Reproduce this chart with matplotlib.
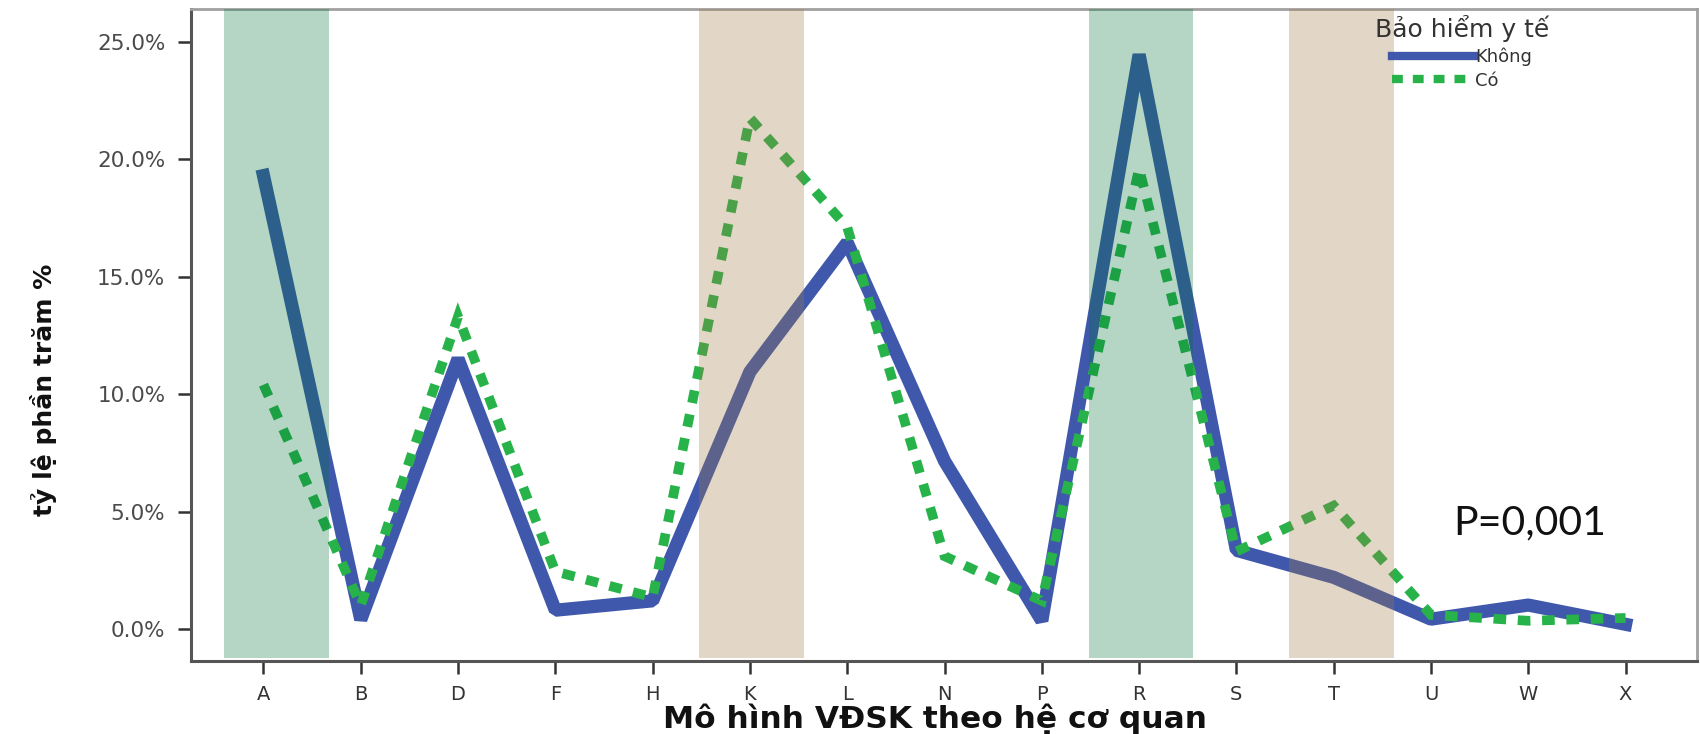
import matplotlib
matplotlib.use("Agg")
import matplotlib.pyplot as plt
from matplotlib.ticker import FuncFormatter

categories = ["A", "B", "D", "F", "H", "K", "L", "N", "P", "R", "S", "T", "U", "W", "X"]
khong = [19.3, 0.4, 11.5, 0.8, 1.2, 10.95, 16.45, 7.15, 0.35, 24.45, 3.35, 2.2, 0.42, 1.02, 0.2]
co = [10.4, 1.0, 13.3, 2.45, 1.35, 21.75, 17.1, 3.1, 1.2, 19.6, 3.3, 5.25, 0.6, 0.35, 0.47]
yticks = [0, 5, 10, 15, 20, 25]
green_bands = ["A", "R"]
tan_bands = ["K", "T"]

sans = "DejaVu Sans"

fig = plt.figure(figsize=(17, 7.34), dpi=100)
ax = fig.add_axes([0.1124, 0.0995, 0.8856, 0.8885])

x = list(range(len(categories)))
ax.plot(x, khong, color="#3f58ac", lw=9.5, solid_joinstyle="bevel", zorder=3, label="Không")
ax.plot(x, co, color="#27b34a", lw=7, dashes=(1.3, 1.2), dash_joinstyle="miter",
        dash_capstyle="butt", zorder=4, label="Có")

band_off = {"A": (-0.405, 0.67), "K": (-0.52, 0.555), "R": (-0.52, 0.555), "T": (-0.46, 0.62)}
for c in green_bands:
    i = categories.index(c)
    lo, hi = band_off[c]
    ax.axvspan(i + lo, i + hi, ymin=0.005, ymax=1, color="#007238", alpha=0.29, lw=0, zorder=5)
for c in tan_bands:
    i = categories.index(c)
    lo, hi = band_off[c]
    ax.axvspan(i + lo, i + hi, ymin=0.005, ymax=1, color="#a27a44", alpha=0.3, lw=0, zorder=5)

ax.set_xlim(-0.744, 14.73)
ax.set_ylim(-1.36, 26.4)
ax.set_xticks(x)
ax.set_xticklabels(categories, fontfamily=sans, fontsize=14, color="#333333")
ax.set_yticks(yticks)
ax.yaxis.set_major_formatter(FuncFormatter(lambda v, p: f"{v:.1f}%"))
for t in ax.get_yticklabels():
    t.set_fontfamily(sans)
    t.set_fontsize(15.5)
    t.set_color("#4a4a4a")

ax.tick_params(axis="both", direction="out", length=9.5, width=1.8, color="#333333")
ax.tick_params(axis="y", pad=9)
ax.tick_params(axis="x", pad=8)

for s in ["left", "bottom"]:
    ax.spines[s].set_color("#555555")
    ax.spines[s].set_linewidth(2.2)
for s in ["top", "right"]:
    ax.spines[s].set_color("#a0a0a0")
    ax.spines[s].set_linewidth(2)

fig.text(0.550, 0.008, "Mô hình VĐSK theo hệ cơ quan", ha="center", va="baseline",
         fontfamily=sans, fontweight="bold", fontsize=22.5, color="#111111")
fig.text(0.0253, 0.469, "tỷ lệ phần trăm %", rotation=90, ha="center", va="center",
         fontfamily=sans, fontweight="bold", fontsize=18, color="#111111")

leg = ax.legend(loc="upper center", bbox_to_anchor=(0.844, 0.99), frameon=False,
                title="Bảo hiểm y tế", title_fontsize=18,
                handlelength=4.6, handletextpad=0.0, labelspacing=0.3,
                borderaxespad=0.0, borderpad=0.0,
                prop={"family": sans, "size": 13})
leg.get_title().set_color("#333333")
leg.get_title().set_fontfamily(sans)
for t in leg.get_texts():
    t.set_color("#333333")
for h in leg.get_lines():
    h.set_linewidth(6)

ax.text(0.889, 0.212, "P=0,001", transform=ax.transAxes, ha="center", va="center",
        fontsize=29.5, fontfamily="Lato", color="#111111", zorder=6)

fig.savefig("out.png", dpi=100)
